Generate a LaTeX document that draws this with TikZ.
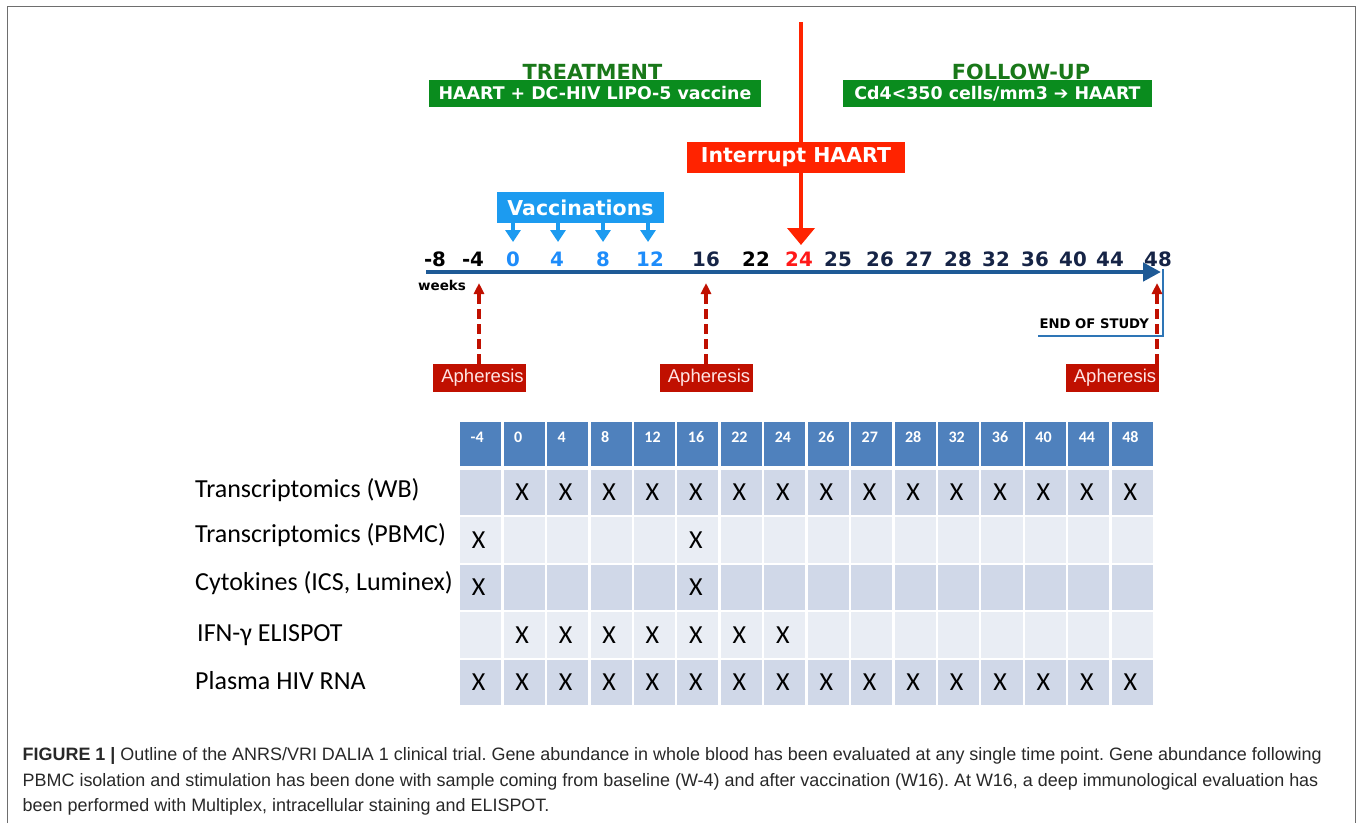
\documentclass[tikz,border=0pt]{standalone}
\usepackage{fontspec}
\setmainfont{DejaVu Sans}
\newfontfamily\verd{DejaVu Sans}
\newfontfamily\calib{Carlito}
\newfontfamily\arialf{Liberation Sans}
\usetikzlibrary{arrows.meta,calc}
\frenchspacing
\definecolor{tgreen}{RGB}{10,140,30}
\definecolor{tgreendk}{RGB}{25,120,25}
\definecolor{ired}{RGB}{255,35,0}
\definecolor{vblue}{RGB}{28,155,240}
\definecolor{nblue}{RGB}{30,140,250}
\definecolor{tline}{RGB}{30,90,150}
\definecolor{navy}{RGB}{22,36,70}
\definecolor{red24}{RGB}{255,25,25}
\definecolor{aphred}{RGB}{192,16,0}
\definecolor{aphtxt}{RGB}{255,228,228}
\definecolor{hdr}{RGB}{79,129,189}
\definecolor{rowdk}{RGB}{208,216,232}
\definecolor{rowlt}{RGB}{233,237,244}
\definecolor{framec}{RGB}{110,110,110}
\definecolor{eosblue}{RGB}{46,117,182}
\definecolor{captc}{RGB}{40,40,40}
\tikzset{
  vb/.style={font=\verd\bfseries\fontsize{#1}{#1}\selectfont, inner sep=0pt},
  greenbox/.style={fill=tgreen, text=white, inner sep=0pt, vb=17.4},
  headtxt/.style={text=tgreendk, anchor=base, vb=20.8},
  tl/.style={anchor=base, vb=19.8},
  aph/.style={fill=aphred, text=aphtxt, inner sep=0pt, minimum width=93pt, minimum height=28pt,
     font=\arialf\fontsize{18.5}{18.5}\selectfont},
  aphdash/.style={draw=aphred, line width=3.5pt, dash pattern=on 10pt off 5pt,
     -{Triangle[length=11pt,width=10pt]}},
  varrow/.style={draw=vblue, line width=3.5pt, -{Triangle[length=12pt,width=15pt]}},
  hdrtxt/.style={anchor=base west, text=white, inner sep=0pt, font=\calib\bfseries\fontsize{16}{16}\selectfont},
  xmark/.style={inner sep=0pt, font=\calib\fontsize{26}{26}\selectfont},
  rowlab/.style={anchor=base west, inner sep=0pt, font=\calib\fontsize{26}{26}\selectfont},
  captxt/.style={anchor=base west, inner sep=0pt, text=captc, font=\arialf\fontsize{17.95}{17.95}\selectfont}
}
\begin{document}
\begin{tikzpicture}[x=1pt,y=-1pt]
\useasboundingbox (0,0) rectangle (1357,823);
% frame
\draw[framec, line width=1.5pt] (7.5,823) -- (7.5,6.5) -- (1355.5,6.5) -- (1355.5,823);

% top labels
\node[headtxt] (treat) at (592.5,79.5) {TREATMENT};
\node[greenbox, minimum width=332pt, minimum height=27pt] (treatbox) at (595,93.5) {HAART + DC-HIV LIPO-5 vaccine};
\node[headtxt] (follow) at (1021,79.5) {FOLLOW-UP};
\node[greenbox, minimum width=309pt, minimum height=27pt] (followbox) at (997.5,93.5) {Cd4<350 cells/mm3 ➔ HAART};

% interrupt
\coordinate (rtop) at (801,22);
\coordinate (rtip) at (801,245);
\draw[ired, line width=4pt, -{Triangle[length=17pt,width=27pt]}] (rtop) -- (rtip);
\node[fill=ired, text=white, inner sep=0pt, minimum width=218pt, minimum height=31pt, vb=20.5] (intr) at (796,157.5) {Interrupt HAART};

% vaccinations
\node[fill=vblue, text=white, inner sep=0pt, minimum width=167pt, minimum height=31pt, vb=20.5] (vacc) at (580.5,207.5) {Vaccinations};
\foreach \vx [count=\k] in {513,558,603,648} {
  \coordinate (v\k) at (\vx,242);
  \draw[varrow] (vacc.south -| v\k) -- (v\k);
}

% timeline
\coordinate (tlstart) at (426,272);
\coordinate (tlend) at (1161,272);
\draw[tline, line width=4.5pt, -{Triangle[length=18pt,width=18pt]}] (tlstart) -- (tlend);
\foreach \lab/\lx/\lc [count=\k] in {-8/435/black,-4/473/black,0/513/nblue,4/557/nblue,8/603/nblue,12/650/nblue,16/706/navy,22/756/black,24/799/red24,25/838/navy,26/880/navy,27/919/navy,28/958/navy,32/996/navy,36/1035/navy,40/1073/navy,44/1110/navy,48/1158/navy} {
  \node[tl, text=\lc] (n\k) at (\lx,266) {\lab};
}
\node[anchor=base west, vb=13.5] (weeks) at (418,290) {weeks};

% end of study
\coordinate (eos1) at (1163,269);
\coordinate (eos2) at (1038,336);
\draw[eosblue, line width=2pt] (eos1) |- (eos2);
\node[anchor=base east, vb=13.2] (eos) at (1149,328) {END OF STUDY};

% apheresis
\node[aph] (ap1) at (479.5,378) {\hspace*{6pt}Apheresis};
\node[aph] (ap2) at (706,378) {\hspace*{6pt}Apheresis};
\node[aph] (ap3) at (1112,378) {\hspace*{6pt}Apheresis};
\coordinate (t1) at (479,283);
\coordinate (t2) at (706,283);
\coordinate (t3) at (1157,283);
\draw[aphdash] (ap1.north -| t1) -- (t1);
\draw[aphdash] (ap2.north -| t2) -- (t2);
\draw[aphdash] (ap3.north -| t3) -- (t3);

% table header
\foreach \lab [count=\i from 0] in {-4,0,4,8,12,16,22,24,26,27,28,32,36,40,44,48} {
  \pgfmathsetmacro\xl{459+\i*43.44}
  \fill[hdr] (\xl+1.2,422) rectangle (\xl+43.44-1.2,466);
  \node[hdrtxt] (h\i) at (\xl+11.5,442) {\lab};
}
% table rows
\foreach \r/\rc in {0/rowdk,1/rowlt,2/rowdk,3/rowlt,4/rowdk} {
  \foreach \i in {0,...,15} {
    \pgfmathsetmacro\xl{459+\i*43.44}
    \pgfmathsetmacro\yt{469.5+\r*47.6}
    \fill[\rc] (\xl+1.2,\yt) rectangle (\xl+43.44-1.2,\yt+45.4);
  }
}
% marks
\foreach \r/\cols in {0/{1,2,3,4,5,6,7,8,9,10,11,12,13,14,15},1/{0,5},2/{0,5},3/{1,2,3,4,5,6,7},4/{0,1,2,3,4,5,6,7,8,9,10,11,12,13,14,15}} {
  \foreach \i in \cols {
    \pgfmathsetmacro\xc{459+(\i+0.5)*43.44-2}
    \pgfmathsetmacro\yc{469.5+\r*47.6+22.7}
    \node[xmark] (x\r-\i) at (\xc,\yc) {X};
  }
}
% row labels
\node[rowlab] (r0) at (195,497) {Transcriptomics (WB)};
\node[rowlab] (r1) at (195,542) {Transcriptomics (PBMC)};
\node[rowlab] (r2) at (195,590.5) {Cytokines (ICS, Luminex)};
\node[rowlab] (r3) at (197,641.5) {IFN-γ ELISPOT};
\node[rowlab] (r4) at (195,689) {Plasma HIV RNA};

% caption
\node[captxt] (c1) at (22.5,760.5) {{\bfseries FIGURE 1 |} Outline of the ANRS/VRI DALIA 1 clinical trial. Gene abundance in whole blood has been evaluated at any single time point. Gene abundance following};
\node[captxt] (c2) at (22.5,786) {PBMC isolation and stimulation has been done with sample coming from baseline (W-4) and after vaccination (W16). At W16, a deep immunological evaluation has};
\node[captxt] (c3) at (22.5,811.5) {been performed with Multiplex, intracellular staining and ELISPOT.};
\end{tikzpicture}
\end{document}
